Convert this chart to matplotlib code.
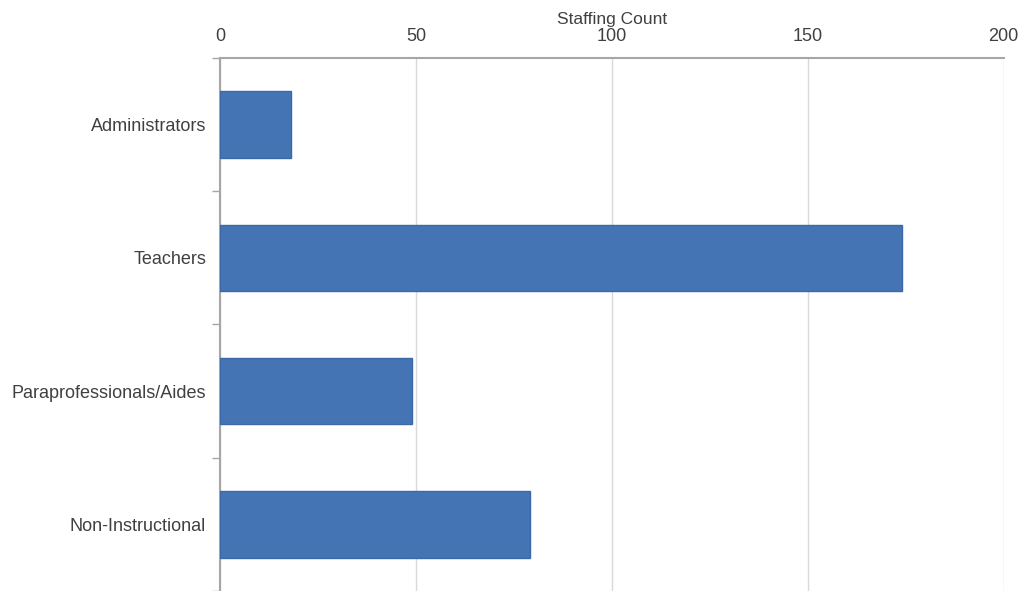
import matplotlib.pyplot as plt
import numpy as np

plt.rcParams['font.family'] = ['Liberation Sans', 'DejaVu Sans']

categories = ["Administrators", "Teachers", "Paraprofessionals/Aides", "Non-Instructional"]
counts = [18, 174, 49, 79]
x_ticks = [0, 50, 100, 150, 200]

fig = plt.figure(figsize=(10.21, 5.91), dpi=100)
ax = fig.add_axes([0.2155, 0.0, 0.7675, 0.902])

y = np.arange(len(categories))
ax.barh(y, counts, height=0.5, color="#4574B4", edgecolor="#3D68A6", linewidth=1, zorder=3)

ax.set_xlim(0, 200)
ax.set_ylim(len(categories) - 0.5, -0.5)

ax.xaxis.set_ticks_position("top")
ax.xaxis.set_label_position("top")
ax.set_xticks(x_ticks)
ax.tick_params(axis="x", length=0, labelsize=13, labelcolor="#404040", pad=9)
ax.set_xlabel("Staffing Count", fontsize=12.5, color="#404040", labelpad=3)
ax.grid(axis="x", color="#D9D9D9", linewidth=1, zorder=0)

ax.set_yticks(y)
ax.set_yticklabels(categories)
ax.set_yticks(np.arange(-0.5, len(categories)), minor=True)
ax.tick_params(axis="y", which="major", length=0, labelsize=13, labelcolor="#404040", pad=10)
ax.tick_params(axis="y", which="minor", length=6, color="#A6A6A6", width=1)

for side in ["right", "bottom"]:
    ax.spines[side].set_visible(False)
for side in ["top", "left"]:
    ax.spines[side].set_color("#A6A6A6")
    ax.spines[side].set_linewidth(1.5)

fig.savefig("out.png", dpi=100)
